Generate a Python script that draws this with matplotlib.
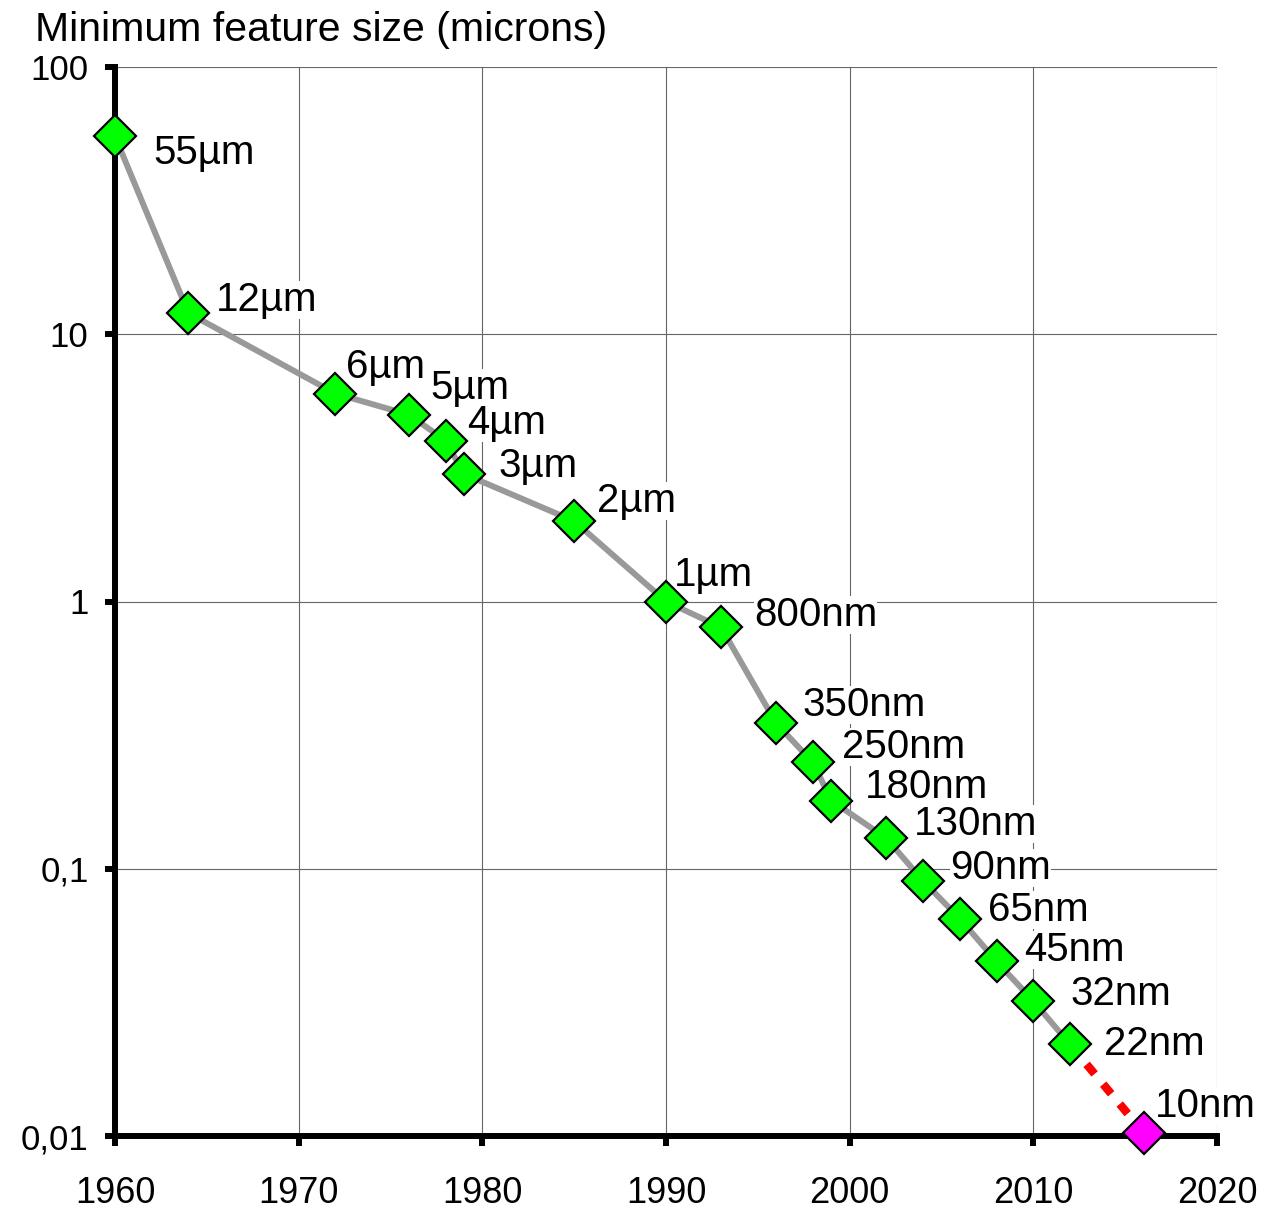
import numpy as np
import matplotlib.pyplot as plt
from matplotlib.ticker import FixedLocator, NullLocator

plt.rcParams["font.family"] = ["Liberation Sans", "DejaVu Sans"]

# process nodes: year and minimum feature size in microns
years = [1960, 1964, 1972, 1976, 1978, 1979, 1985, 1990, 1993, 1996,
         1998, 1999, 2002, 2004, 2006, 2008, 2010, 2012]
sizes = [55, 12, 6, 5, 4, 3, 2, 1, 0.8, 0.35,
         0.25, 0.18, 0.13, 0.09, 0.065, 0.045, 0.032, 0.022]
labels = ["55µm", "12µm", "6µm", "5µm", "4µm", "3µm", "2µm", "1µm", "800nm", "350nm",
          "250nm", "180nm", "130nm", "90nm", "65nm", "45nm", "32nm", "22nm"]

# projected node
next_year = 2016
next_size = 0.0103
next_label = "10nm"

x_ticks = [1960, 1970, 1980, 1990, 2000, 2010, 2020]
y_ticks = [0.01, 0.1, 1, 10, 100]
y_tick_labels = ["0,01", "0,1", "1", "10", "100"]

# label offsets (pixels, text left edge / baseline relative to the marker)
label_offsets = [(38, -28), (27, 2), (11, 16), (22, 16), (22, 7), (34, -3), (23, 9),
                 (8, 16), (33, 1), (26, 7), (29, 4), (34, 3), (27, 3), (27, 2),
                 (28, -2), (28, 0), (37, -4), (34, -11)]
next_offset = (11, 16)

fig = plt.figure(figsize=(12.71, 12.10), dpi=100)
ax = fig.add_axes([115 / 1271, 1 - 1136 / 1210, (1217 - 115) / 1271, (1136 - 67) / 1210])

ax.set_yscale("log")
ax.set_xlim(1960, 2020)
ax.set_ylim(0.01, 100)

ax.xaxis.set_major_locator(FixedLocator(x_ticks))
ax.yaxis.set_major_locator(FixedLocator(y_ticks))
ax.yaxis.set_minor_locator(NullLocator())
ax.set_yticklabels(y_tick_labels)

ax.grid(True, color="#666666", linewidth=0.8, zorder=1)
ax.set_axisbelow(True)

for side in ["top", "right"]:
    ax.spines[side].set_visible(False)
for side in ["left", "bottom"]:
    ax.spines[side].set_linewidth(4.3)
    ax.spines[side].set_zorder(5)

ax.tick_params(axis="both", which="major", direction="out", length=7, width=4.3,
               color="black")
ax.tick_params(axis="y", pad=12, labelsize=25)
ax.tick_params(axis="x", pad=22, labelsize=26)

# trend line and markers
ax.plot(years, sizes, color="#999999", linewidth=4.3, zorder=3, solid_capstyle="round")
ax.plot([years[-1], next_year], [sizes[-1], next_size], color="#ff0000", linewidth=6,
        linestyle=(0, (1.5, 1.6)), dash_capstyle="butt", zorder=3)
ax.plot(years, sizes, linestyle="none", marker="D", markersize=21,
        markerfacecolor="#00ff00", markeredgecolor="black", markeredgewidth=1.6,
        zorder=6, clip_on=False)
ax.plot([next_year], [next_size], linestyle="none", marker="D", markersize=21,
        markerfacecolor="#ff00ff", markeredgecolor="black", markeredgewidth=1.6,
        zorder=6, clip_on=False)

bbox = dict(facecolor="white", edgecolor="none", pad=0)
for x, y, txt, off in zip(years, sizes, labels, label_offsets):
    ax.annotate(txt, (x, y), xytext=off, textcoords="offset pixels", ha="left",
                va="baseline", fontsize=29, bbox=bbox, zorder=2.5)
ax.annotate(next_label, (next_year, next_size), xytext=next_offset, textcoords="offset pixels",
            ha="left", va="baseline", fontsize=29, bbox=bbox, zorder=2.5,
            annotation_clip=False)

fig.text(35 / 1271, 1 - 41 / 1210, "Minimum feature size (microns)", fontsize=29.5,
         ha="left", va="baseline")

fig.savefig("out.png", dpi=100)
